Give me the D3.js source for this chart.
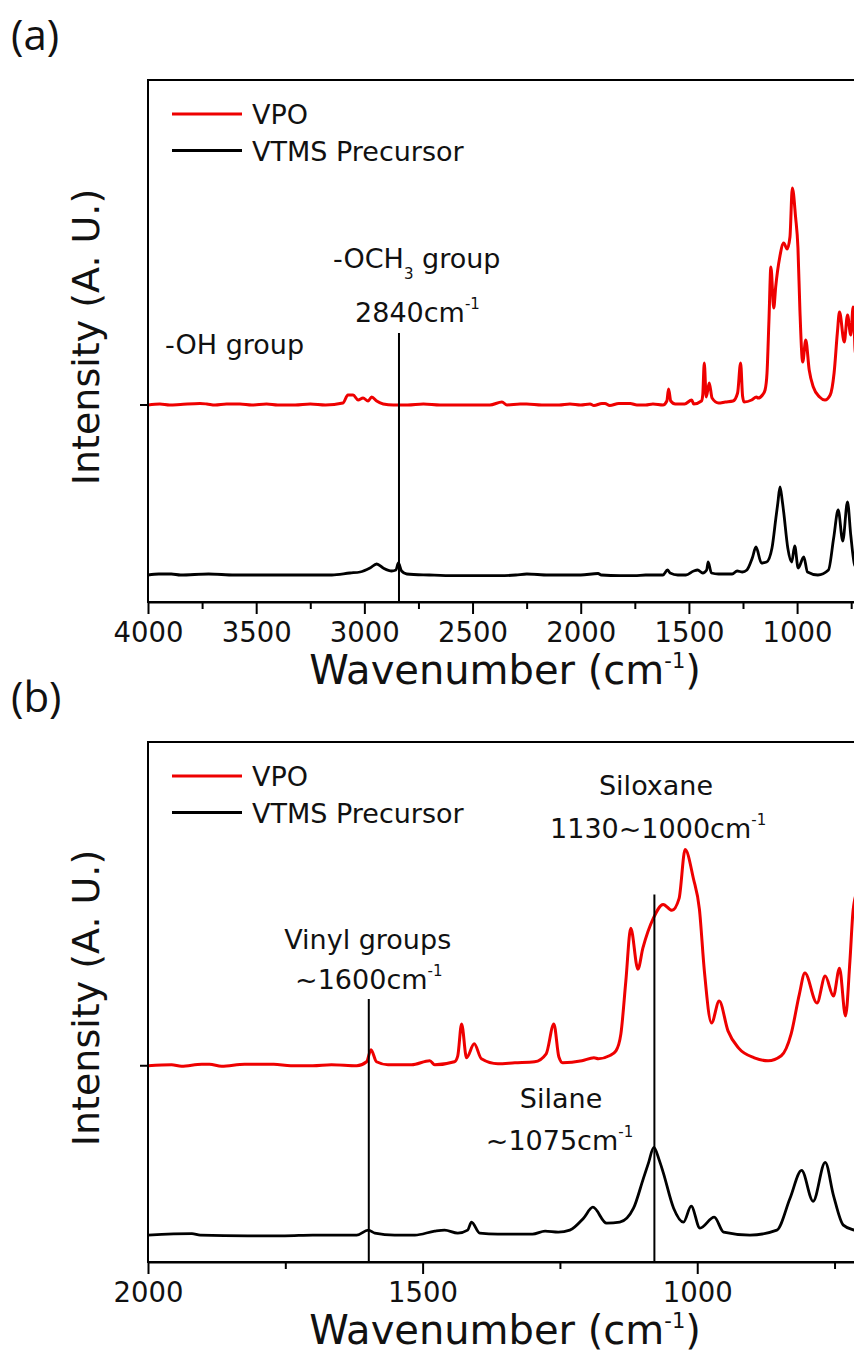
<!DOCTYPE html>
<html>
<head>
<meta charset="utf-8">
<script src="https://cdn.jsdelivr.net/npm/d3@7"></script>
<style>
	body { margin: 0; background: #fff; }
	svg { display: block; font-family: "DejaVu Sans", sans-serif; }
</style>
</head>
<body>
<script>
//Spectra: wavenumber (cm-1) and height above each baseline (A. U.)
const vpoWn = [4000, 3945, 3900, 3850, 3760, 3728, 3690, 3637, 3575, 3520, 3452, 3400, 3320, 3250, 3180,
	3099, 3076, 3052, 3029, 3006, 2983, 2966, 2943, 2913, 2866, 2800, 2727, 2650, 2560, 2420, 2364, 2341,
	2280, 2250, 2180, 2100, 2050, 2000, 1957, 1939, 1902, 1888, 1866, 1824, 1771, 1740, 1700, 1666, 1620,
	1602, 1594, 1584, 1563, 1520, 1487, 1478, 1442, 1436, 1429, 1420, 1406, 1393, 1363, 1332, 1296, 1275,
	1261, 1252, 1245, 1210, 1188, 1180, 1160, 1148, 1139, 1130, 1121, 1108, 1099, 1080, 1062, 1046, 1033,
	1022, 1007, 996, 987, 974, 960, 944, 925, 896, 871, 847, 829, 814, 804, 782, 767, 752, 741, 730, 722,
	716, 708, 700];
const vpoInt = [0, 1, 0, 0.5, 1.5, 1, 0, 1, 1, 0, 1, 0, 0, 1, 0,
	2, 10, 10, 5, 7, 4, 8, 4, 1, 0, 0, 1, 0, 0, 0, 3, 0,
	1, 1, 0, 0, 1, 0, 1, -0.5, 1.5, 1.5, -0.5, 1.5, 1.5, 0, 0, 1, 0,
	4, 16, 4, 1, 1, 5, 1, 4, 10, 42, 8, 22, 7, 2, 3, 4, 12,
	42, 9, 3, 5, 8, 7, 10, 15, 32, 85, 138, 97, 118, 148, 162, 156, 168,
	217, 188, 157, 95, 43, 65, 35, 18, 8, 5, 10, 32, 72, 93, 63, 90, 70, 98, 50, 105,
	157, 175, 170];

const vtmsWn = [4000, 3950, 3892, 3850, 3720, 3600, 3400, 3260, 3150, 3067, 3020, 2974, 2943, 2913, 2874,
	2854, 2843, 2828, 2804, 2700, 2587, 2372, 2300, 2249, 2150, 2000, 1920, 1905, 1818, 1751, 1700, 1620,
	1599, 1587, 1551, 1514, 1478, 1460, 1436, 1418, 1411, 1396, 1363, 1300, 1277, 1253, 1232, 1207, 1190,
	1165, 1141, 1116, 1098, 1089, 1079, 1069, 1062, 1043, 1025, 1011, 995, 969, 952, 904, 855, 831, 810,
	789, 767, 752, 734, 714, 700];
const vtmsInt = [0, 1, 1, 0, 1, 0, 0, 0, 0, 2, 3, 7, 11, 7, 4,
	5, 12, 4, 1, 0, -0.7, -0.7, 0, 1, 0, 0, 1.5, 0, -0.7, -0.7, 0, 0,
	5, 2, 0, 0, 4, 5, 2, 5, 13, 2, 1, 1, 4, 3, 5, 17, 28,
	12, 13, 27, 57, 72, 88, 75, 63, 27, 13, 29, 7, 18, 3, 0, 5, 37, 65,
	34, 73, 40, 10, 5, 3];

//Vertical stacking of the two traces
const vtmsOffset = 27, vpoOffset = 197;

const seriesNames = ["VPO", "VTMS Precursor"];
const seriesColors = ["#ee0000", "#000000"];

//Axis ticks for both panels
const ticksA = [4000, 3500, 3000, 2500, 2000, 1500, 1000];
const minorA = [3750, 3250, 2750, 2250, 1750, 1250, 750];
const ticksB = [2000, 1500, 1000];
const minorB = [1750, 1250, 750];

//Peak markers: wavenumber and top of the line
const markersA = [{wn: 2840, top: 269}];
const markersB = [{wn: 1598, top: 264}, {wn: 1078, top: 369}];

//Annotation texts, placed in data coordinates
const notesA = [
	{wn: 3921, v: 248, anchor: "start", parts: [["-OH group"]]},
	{wn: 3145, v: 334, anchor: "start", parts: [["-OCH"], ["3", "sub"], [" group"]]},
	{wn: 3043, v: 280, anchor: "start", parts: [["2840cm"], ["-1", "sup"]]}
];
const notesB = [
	{wn: 1600, v: 314, anchor: "middle", parts: [["Vinyl groups"]]},
	{wn: 1598, v: 274, anchor: "middle", parts: [["~1600cm"], ["-1", "sup"]]},
	{wn: 1075, v: 469, anchor: "middle", parts: [["Siloxane"]]},
	{wn: 1268, v: 426, anchor: "start", parts: [["1130~1000cm"], ["-1", "sup"]]},
	{wn: 1323, v: 155, anchor: "start", parts: [["Silane"]]},
	{wn: 1385, v: 112, anchor: "start", parts: [["~1075cm"], ["-1", "sup"]]}
];

window.onload = function(){
	let w = 854, h = 1369;
	let left = 148, right = 862;

	let svg = d3.select("body")
		.append("svg")
		.attr("width", w)
		.attr("height", h);

	let vpo = vpoWn.map(function(d, i){ return [d, vpoInt[i] + vpoOffset]; });
	let vtms = vtmsWn.map(function(d, i){ return [d, vtmsInt[i] + vtmsOffset]; });

	function panel(id, label, top, bottom, domain, major, minor, markers, notes){
		let g = svg.append("g").attr("class", "panel-" + id);

		let x = d3.scaleLinear().domain(domain).range([left, right]);
		let y = d3.scaleLinear().domain([0, 522]).range([bottom, top]);

		//Clip the traces to the frame
		g.append("clipPath")
			.attr("id", "clip-" + id)
			.append("rect")
			.attr("x", left).attr("y", top)
			.attr("width", right - left).attr("height", bottom - top);

		let line = d3.line()
			.x(function(d){ return x(d[0]); })
			.y(function(d){ return y(d[1]); })
			.curve(d3.curveMonotoneX);

		let traces = g.append("g").attr("clip-path", "url(#clip-" + id + ")");
		[vpo, vtms].forEach(function(s, i){
			traces.append("path")
				.datum(s.filter(function(d){ return d[0] <= domain[0] && d[0] >= domain[1]; }))
				.attr("d", line)
				.attr("fill", "none")
				.attr("stroke", seriesColors[i])
				.attr("stroke-width", i === 0 ? 3 : 2.8)
				.attr("stroke-linejoin", "round");
		});

		//Peak marker lines
		g.selectAll(".marker")
			.data(markers)
			.enter()
			.append("line")
			.attr("class", "marker")
			.attr("x1", function(d){ return x(d.wn); })
			.attr("x2", function(d){ return x(d.wn); })
			.attr("y1", function(d){ return y(d.top); })
			.attr("y2", bottom)
			.attr("stroke", "#000")
			.attr("stroke-width", 2);

		//Frame
		g.append("rect")
			.attr("x", left).attr("y", top)
			.attr("width", right - left).attr("height", bottom - top)
			.attr("fill", "none")
			.attr("stroke", "#000")
			.attr("stroke-width", 2);

		//Bottom axis, major and minor ticks
		let ax = g.append("g")
			.attr("transform", "translate(0," + bottom + ")")
			.call(d3.axisBottom(x).tickValues(major).tickSize(12).tickSizeOuter(0).tickFormat(d3.format("d")));
		ax.select(".domain").attr("stroke-width", 2);
		ax.selectAll(".tick line").attr("stroke-width", 2);
		ax.selectAll(".tick text")
			.attr("y", 40)
			.attr("dy", null)
			.attr("fill", "#111")
			.style("font-size", "27.5px")
			.style("font-family", "DejaVu Sans");

		let axMinor = g.append("g")
			.attr("transform", "translate(0," + bottom + ")")
			.call(d3.axisBottom(x).tickValues(minor).tickSize(7).tickSizeOuter(0).tickFormat(""));
		axMinor.select(".domain").remove();
		axMinor.selectAll(".tick line").attr("stroke-width", 2);

		//Left tick at the VPO baseline
		g.append("line")
			.attr("x1", left - 8).attr("x2", left)
			.attr("y1", y(vpoOffset)).attr("y2", y(vpoOffset))
			.attr("stroke", "#000")
			.attr("stroke-width", 2);

		//Axis titles
		let xt = g.append("text")
			.attr("x", (left + right) / 2)
			.attr("y", bottom + 82)
			.attr("text-anchor", "middle")
			.attr("fill", "#111")
			.style("font-size", "40px");
		xt.append("tspan").text("Wavenumber (cm");
		xt.append("tspan").attr("dy", -16).style("font-size", "21px").text("-1");
		xt.append("tspan").attr("dy", 16).text(")");

		g.append("text")
			.attr("transform", "translate(99," + ((top + bottom) / 2 - 4) + ") rotate(-90)")
			.attr("text-anchor", "middle")
			.attr("fill", "#111")
			.style("font-size", "38px")
			.text("Intensity (A. U.)");

		//Panel letter
		g.append("text")
			.attr("x", 11)
			.attr("y", top - 30)
			.attr("fill", "#111")
			.style("font-family", "'Open Sans', sans-serif")
			.style("font-size", "42px")
			.text(label);

		//Legend
		let legend = g.selectAll(".legend")
			.data(seriesNames)
			.enter()
			.append("g")
			.attr("class", "legend")
			.attr("transform", function(d, i){ return "translate(0," + (top + 34 + i * 36.5) + ")"; });
		legend.append("line")
			.attr("x1", 172).attr("x2", 242)
			.attr("stroke", function(d, i){ return seriesColors[i]; })
			.attr("stroke-width", 3);
		legend.append("text")
			.attr("x", 252)
			.attr("y", 10)
			.attr("fill", "#111")
			.style("font-size", "27px")
			.text(function(d){ return d; });

		//Annotations
		notes.forEach(function(n){
			let t = g.append("text")
				.attr("x", x(n.wn))
				.attr("y", y(n.v))
				.attr("text-anchor", n.anchor)
				.attr("fill", "#111")
				.style("font-size", "27px");
			let shift = 0;
			n.parts.forEach(function(p){
				let ts = t.append("tspan").text(p[0]);
				if (p[1] === "sup") {
					ts.attr("dy", -13 - shift).style("font-size", "15px");
					shift = -13;
				} else if (p[1] === "sub") {
					ts.attr("dy", 11 - shift).style("font-size", "15px");
					shift = 11;
				} else if (shift !== 0) {
					ts.attr("dy", -shift);
					shift = 0;
				}
			});
		});
	}

	panel("a", "(a)", 80, 602, [4000, 700], ticksA, minorA, markersA, notesA);
	panel("b", "(b)", 742, 1262, [2000, 700], ticksB, minorB, markersB, notesB);
};
</script>
</body>
</html>
